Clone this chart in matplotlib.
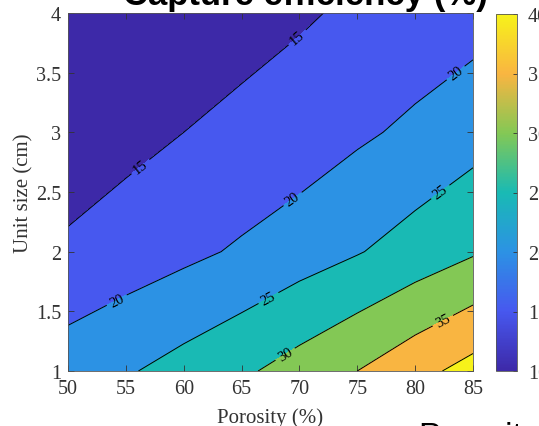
import numpy as np
import matplotlib
matplotlib.use("Agg")
import matplotlib.pyplot as plt
from matplotlib.colors import LinearSegmentedColormap, Normalize
from matplotlib.cm import ScalarMappable

# porosity (%) along x, unit size (cm) along y
porosity = [50, 55, 60, 65, 70, 75, 80, 85]
unit_size = [1, 2, 3, 4]
# capture efficiency (%), one row per unit size
efficiency = [
    [22.6, 24.5, 26.8, 29.2, 32.0, 35.0, 38.4, 41.8],
    [15.8, 17.4, 18.9, 20.6, 22.7, 24.7, 27.1, 29.5],
    [12.0, 13.5, 15.0, 16.1, 17.1, 19.2, 21.0, 23.1],
    [10.0, 11.1, 12.3, 13.4, 14.5, 15.7, 16.8, 18.0],
]
levels = [15, 20, 25, 30, 35, 40]
cbar_ticks = [10, 15, 20, 25, 30, 35, 40]
label_pos = [(69.6, 3.82), (56.2, 2.72),
             (54.5, 1.54), (69.2, 2.47), (83.4, 3.51),
             (67.5, 1.58), (82.1, 2.51),
             (68.9, 1.12), (82.4, 1.42)]

# parula-like colours at 10, 15, ..., 40
band_colors = ['#3d29a8', '#4758ef', '#2c92e4', '#19bab4',
               '#83c855', '#f9b541', '#f7f21a']
parula = LinearSegmentedColormap.from_list(
    'parula_like', list(zip(np.linspace(0, 1, 7), band_colors)))

plt.rcParams['font.family'] = ['Liberation Serif', 'DejaVu Serif']
txt = '#333333'

W, H = 539, 427
fig = plt.figure(figsize=(W / 100, H / 100), dpi=100)
ax = fig.add_axes([68 / W, (H - 372) / H, (473 - 68) / W, (372 - 14) / H])
cax = fig.add_axes([496 / W, (H - 372) / H, 21 / W, (372 - 15) / H])

X, Y = np.meshgrid(porosity, unit_size)
Z = np.array(efficiency)

ax.contourf(X, Y, Z, levels=[0] + levels + [100], colors=band_colors)
cs = ax.contour(X, Y, Z, levels=levels, colors='k', linewidths=0.7)
ax.clabel(cs, manual=label_pos, inline=True, fontsize=10.5, fmt='%d',
          inline_spacing=4)

ax.set_xlim(50, 85)
ax.set_ylim(1, 4)
ax.set_xticks([50, 55, 60, 65, 70, 75, 80, 85])
ax.set_yticks([1, 1.5, 2, 2.5, 3, 3.5, 4])
ax.set_yticklabels(['1', '1.5', '2', '2.5', '3', '3.5', '4'])
ax.tick_params(direction='in', top=True, right=True, length=4, width=0.6,
               colors=txt, labelsize=14.5)
ax.tick_params(axis='x', pad=6)
ax.tick_params(axis='y', pad=5)
for s in ax.spines.values():
    s.set_color('#555555')
    s.set_linewidth(0.6)
ax.set_xlabel('Porosity (%)', fontsize=15, color=txt, labelpad=6.5)
ax.set_ylabel('Unit size (cm)', fontsize=15, color=txt, labelpad=2)

cb = fig.colorbar(ScalarMappable(norm=Normalize(10, 40), cmap=parula), cax=cax)
cb.set_ticks(cbar_ticks)
cb.ax.tick_params(direction='in', length=3, width=0.6, colors=txt,
                  labelsize=14.5, pad=8)
cb.outline.set_edgecolor('#555555')
cb.outline.set_linewidth(0.6)

fig.text(305 / W, 1 - 5 / H, 'Capture efficiency (%)', ha='center',
         va='baseline', fontsize=25, fontweight='bold',
         family=['Liberation Sans', 'DejaVu Sans'], color='k')
fig.text(418 / W, 1 - 422 / H, 'Porosity', ha='left', va='top',
         fontsize=24, family=['Liberation Sans', 'DejaVu Sans'], color='k')

fig.savefig('out.png', dpi=100)
